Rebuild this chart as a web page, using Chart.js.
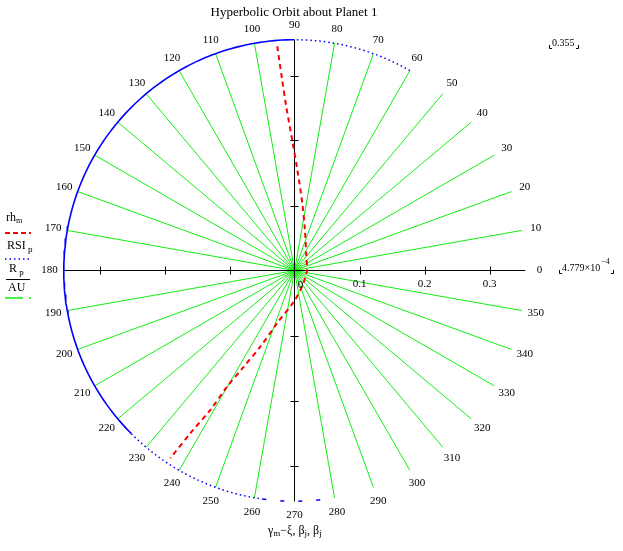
<!DOCTYPE html>
<html>
<head>
<meta charset="utf-8">
<script src="https://cdn.jsdelivr.net/npm/chart.js@4/dist/chart.umd.min.js"></script>
<style>
  html, body { margin: 0; padding: 0; background: #fff; }
  canvas { display: block; }
</style>
</head>
<body>
<canvas id="orbit" width="623" height="551"></canvas>
<script>
// ---- data ----
const chartTitle = 'Hyperbolic Orbit about Planet 1';
const rsiRadius = 0.355;            // RSI_p (upper radial limit)
const rMinLabel = '4.779';          // lower radial limit 4.779e-4
const spokeAngles = [0,10,20,30,40,50,60,70,80,90,100,110,120,130,140,150,160,170,
                     180,190,200,210,220,230,240,250,260,270,280,290,300,310,320,330,340,350];
const radialTicks = [0.1, 0.2, 0.3];
const radialTickLabels = ['0.1', '0.2', '0.3'];

// hyperbolic path rh_m (radius AU, angle deg)
const orbitR     = [0.346, 0.294, 0.253, 0.201, 0.155, 0.105, 0.065, 0.028, 0.019,
                    0.027, 0.048, 0.085, 0.128, 0.167, 0.206, 0.250, 0.297, 0.346];
const orbitTheta = [94.4, 93.7, 92.9, 91.0, 88.4, 83.5, 75.8, 49.3, 356.4,
                    295.6, 268.7, 251.8, 245.9, 242.2, 239.9, 238.9, 237.4, 236.5];

// angular spans of the RSI circle that are visible
const rsiSolidSpan  = [90, 225];
const rsiDotSpans   = [[60, 90], [225, 262]];
const rsiDashSpan   = [262, 278];

// ---- helpers ----
function toXY(r, deg) {
    const a = deg * Math.PI / 180;
    return { x: r * Math.cos(a), y: r * Math.sin(a) };
}
function arcPoints(span) {
    const pts = [];
    for (let a = span[0]; a <= span[1]; a += 1) pts.push(toXY(rsiRadius, a));
    return pts;
}

const pxPerUnit = 650;
const cx = 294.5, cy = 270.5;

const datasets = [];
datasets.push({
    data: orbitR.map((r, i) => toXY(r, orbitTheta[i])),
    borderColor: '#ff0000', borderWidth: 2, borderDash: [5, 4], tension: 0.3
});
datasets.push({ data: arcPoints(rsiSolidSpan), borderColor: '#0000ff', borderWidth: 1.6 });
rsiDotSpans.forEach(s => datasets.push({ data: arcPoints(s), borderColor: '#0000ff', borderWidth: 1.5, borderDash: [1.5, 3] }));
datasets.push({ data: arcPoints(rsiDashSpan), borderColor: '#0000ff', borderWidth: 1.5, borderDash: [4, 14] });
// axes
datasets.push({ data: [{x: -rsiRadius, y: 0}, {x: rsiRadius, y: 0}], borderColor: '#000', borderWidth: 1 });
datasets.push({ data: [{x: 0, y: -rsiRadius}, {x: 0, y: rsiRadius}], borderColor: '#000', borderWidth: 1 });
// R_p / AU spokes
spokeAngles.forEach(a => datasets.push({
    data: [{x: 0, y: 0}, toXY(rsiRadius, a)], borderColor: '#11ee11', borderWidth: 1
}));
datasets.forEach(d => { d.showLine = true; d.pointRadius = 0; d.fill = false; });

const serif = '"Liberation Serif", "Times New Roman", serif';

const decorations = {
    id: 'decorations',
    afterDatasetsDraw(chart) {
        const ctx = chart.ctx;
        const xs = chart.scales.x, ys = chart.scales.y;
        const ox = xs.getPixelForValue(0), oy = ys.getPixelForValue(0);
        ctx.save();
        ctx.strokeStyle = '#000';
        ctx.lineWidth = 1;
        ctx.beginPath();
        radialTicks.forEach(t => {
            [t, -t].forEach(v => {
                const px = Math.round(xs.getPixelForValue(v)) + 0.5;
                ctx.moveTo(px, oy - 4); ctx.lineTo(px, oy + 4);
                const py = Math.round(ys.getPixelForValue(v)) + 0.5;
                ctx.moveTo(ox - 4, py); ctx.lineTo(ox + 4, py);
            });
        });
        ctx.stroke();
        ctx.restore();
    },
    afterDraw(chart) {
        const ctx = chart.ctx;
        const xs = chart.scales.x, ys = chart.scales.y;
        const ox = xs.getPixelForValue(0), oy = ys.getPixelForValue(0);
        ctx.save();
        ctx.fillStyle = '#000';
        ctx.textAlign = 'center';
        ctx.textBaseline = 'middle';

        // title
        ctx.font = '13px ' + serif;
        ctx.fillText(chartTitle, 294, 13);

        // angle labels
        ctx.font = '11px ' + serif;
        spokeAngles.forEach(a => {
            const p = toXY(0.377, a);
            ctx.fillText(String(a), xs.getPixelForValue(p.x), ys.getPixelForValue(p.y));
        });

        // radial tick labels
        radialTicks.forEach((t, i) => {
            ctx.fillText(radialTickLabels[i], xs.getPixelForValue(t), oy + 14);
        });
        ctx.fillText('0', ox + 6, oy + 15);

        // limits at right
        function bracket(x0, x1, y) {
            ctx.beginPath();
            ctx.moveTo(x0 + 0.5, y - 3); ctx.lineTo(x0 + 0.5, y + 0.5); ctx.lineTo(x0 + 3, y + 0.5);
            ctx.moveTo(x1 - 0.5, y - 3); ctx.lineTo(x1 - 0.5, y + 0.5); ctx.lineTo(x1 - 3, y + 0.5);
            ctx.strokeStyle = '#000'; ctx.lineWidth = 1; ctx.stroke();
        }
        ctx.textAlign = 'left';
        ctx.font = '10px ' + serif;
        ctx.fillText(rsiRadius.toFixed(3), 552, 43);
        bracket(549, 579, 48);
        ctx.fillText(rMinLabel + '\u00d710', 562, 268);
        const w = ctx.measureText(rMinLabel + '\u00d710').width;
        ctx.font = '8px ' + serif;
        ctx.fillText('\u2212' + '4', 562 + w + 1, 262);
        bracket(559, 614, 273);

        // axis label at bottom
        let x = 268;
        const yb = 531;
        function put(t, f, dy) {
            ctx.font = f;
            ctx.fillText(t, x, yb + (dy || 0));
            x += ctx.measureText(t).width;
        }
        put('\u03b3', '12px ' + serif);
        put('m', '9px ' + serif, 3);
        put('\u2212\u03be, \u03b2', '12px ' + serif);
        put('j', '9px ' + serif, 3);
        put(', \u03b2', '12px ' + serif);
        put('j', '9px ' + serif, 3);

        // legend at left
        function legendText(lx, items, y) {
            items.forEach(p => {
                ctx.font = p[1] + 'px ' + serif;
                ctx.fillText(p[0], lx, y + (p[2] || 0));
                lx += ctx.measureText(p[0]).width;
            });
        }
        legendText(6, [['rh', 12], ['m', 8, 3]], 218);
        ctx.setLineDash([5, 3]); ctx.strokeStyle = '#ff0000'; ctx.lineWidth = 2;
        ctx.beginPath(); ctx.moveTo(5, 233); ctx.lineTo(31, 233); ctx.stroke();

        legendText(7, [['RSI', 12], [' p', 9, 4]], 246);
        ctx.setLineDash([1.5, 3]); ctx.strokeStyle = '#0000ff'; ctx.lineWidth = 1.5;
        ctx.beginPath(); ctx.moveTo(5, 259); ctx.lineTo(31, 259); ctx.stroke();

        legendText(9, [['R', 12], [' p', 9, 4]], 269);
        ctx.setLineDash([]); ctx.strokeStyle = '#000'; ctx.lineWidth = 1;
        ctx.beginPath(); ctx.moveTo(6, 279.5); ctx.lineTo(30, 279.5); ctx.stroke();
        legendText(8, [['AU', 12]], 288);
        ctx.setLineDash([18, 6]); ctx.strokeStyle = '#11ee11'; ctx.lineWidth = 1.5;
        ctx.beginPath(); ctx.moveTo(5, 298); ctx.lineTo(31, 298); ctx.stroke();

        ctx.restore();
    }
};

new Chart(document.getElementById('orbit'), {
    type: 'scatter',
    data: { datasets: datasets },
    options: {
        responsive: false,
        animation: false,
        events: [],
        layout: { padding: 0 },
        scales: {
            x: { type: 'linear', display: false, min: -cx / pxPerUnit, max: (623 - cx) / pxPerUnit },
            y: { type: 'linear', display: false, min: -(551 - cy) / pxPerUnit, max: cy / pxPerUnit }
        },
        plugins: { legend: { display: false }, tooltip: { enabled: false } }
    },
    plugins: [decorations]
});
</script>
</body>
</html>
